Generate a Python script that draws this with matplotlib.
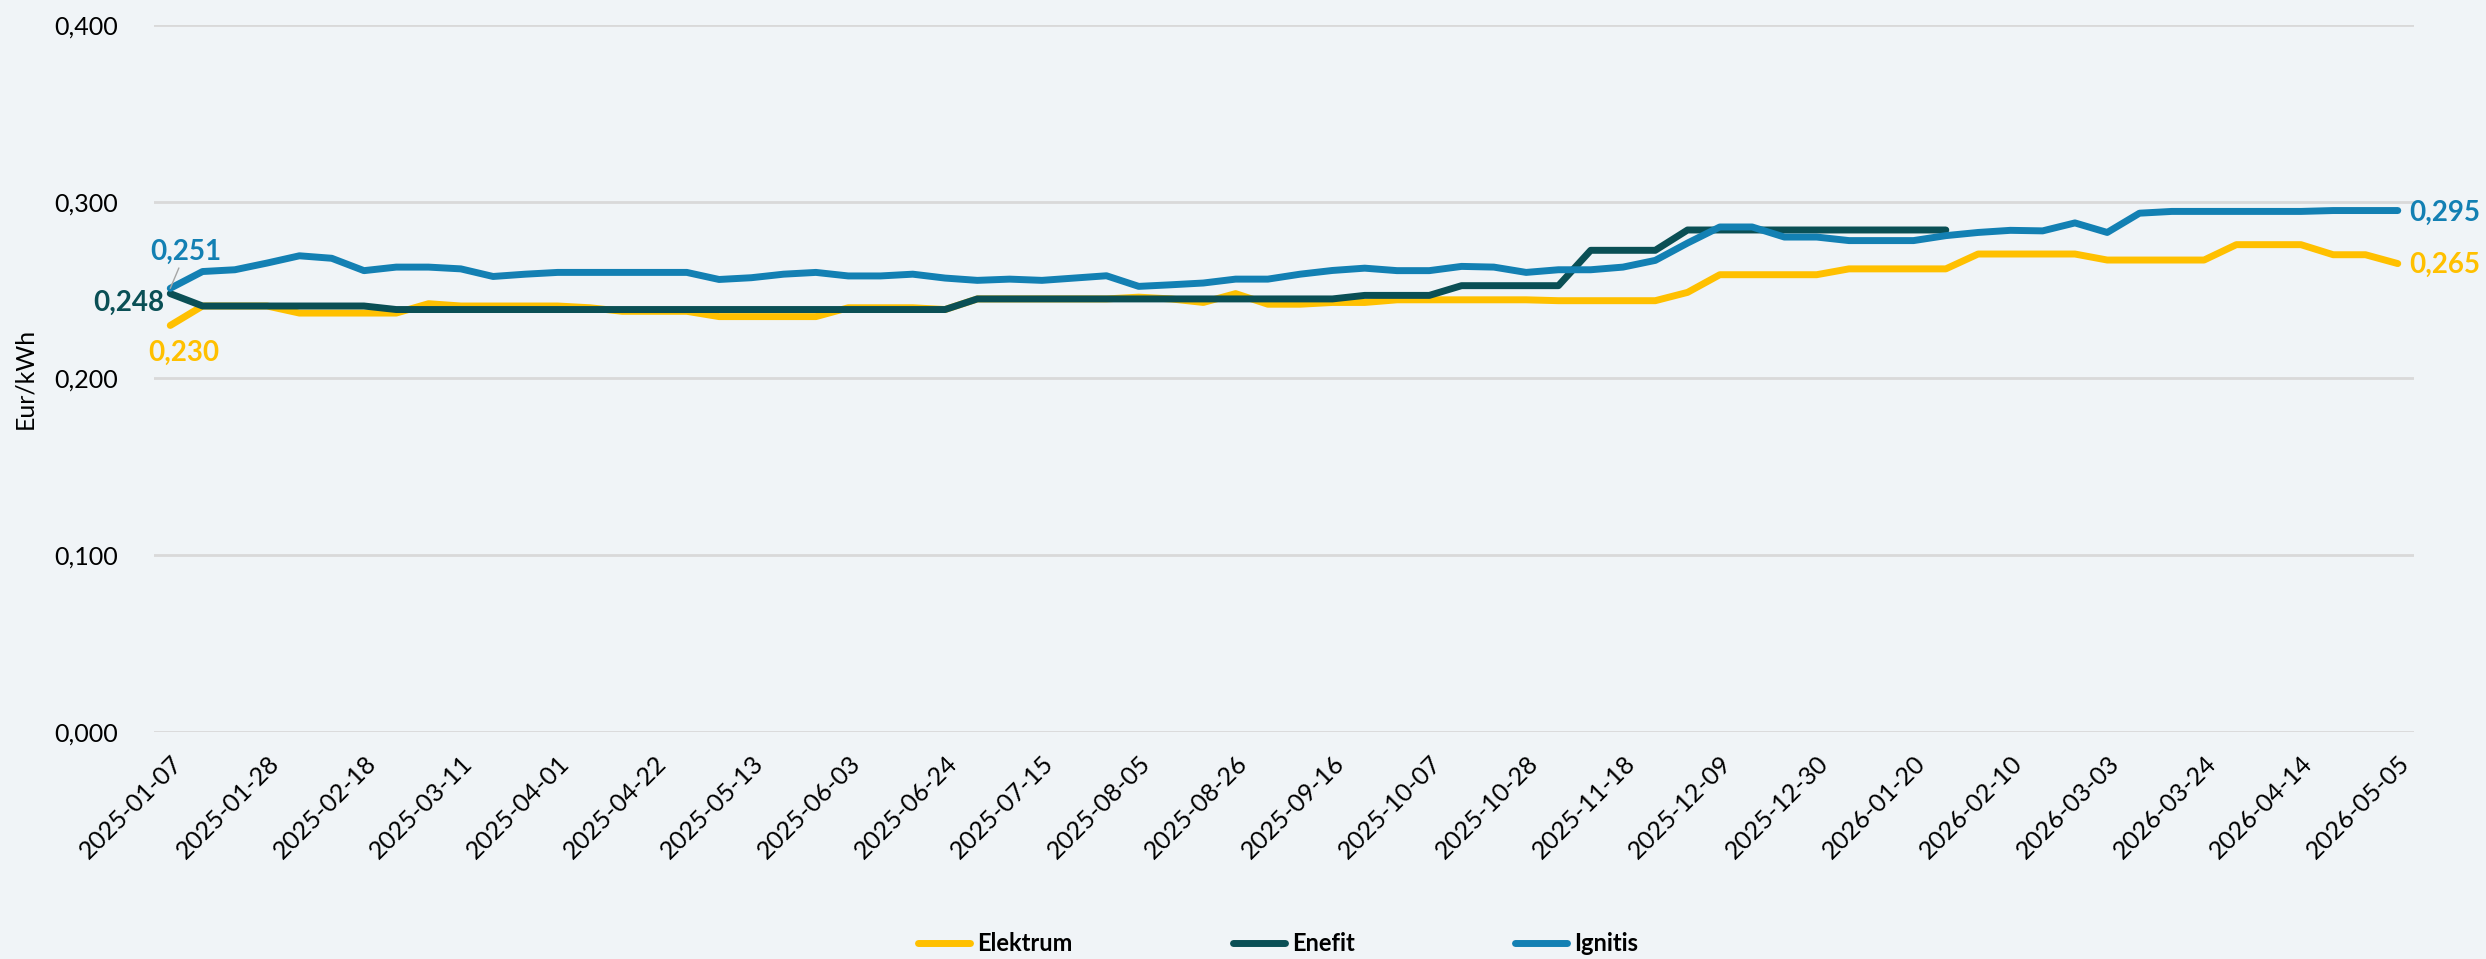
import matplotlib
matplotlib.use("Agg")
import matplotlib.pyplot as plt
from matplotlib.ticker import FuncFormatter
import numpy as np
import pandas as pd

# weekly price observations, Eur/kWh
DATES = pd.date_range("2025-01-07", periods=70, freq="7D")

ELEKTRUM = [
    0.230, 0.241, 0.241, 0.241, 0.237, 0.237, 0.237, 0.237, 0.2423, 0.241,
    0.241, 0.241, 0.241, 0.240, 0.238, 0.238, 0.238, 0.235, 0.235, 0.235,
    0.235, 0.240, 0.240, 0.240, 0.239, 0.245, 0.245, 0.245, 0.245, 0.245,
    0.246, 0.245, 0.243, 0.248, 0.242, 0.242, 0.243, 0.243, 0.2445, 0.2445,
    0.2445, 0.2445, 0.2445, 0.244, 0.244, 0.244, 0.244, 0.2487, 0.2587, 0.2587,
    0.2587, 0.2587, 0.262, 0.262, 0.262, 0.262, 0.2704, 0.2704, 0.2704, 0.2704,
    0.267, 0.267, 0.267, 0.267, 0.2757, 0.2757, 0.2757, 0.270, 0.270, 0.265,
]

ENEFIT = [
    0.248, 0.241, 0.241, 0.241, 0.241, 0.241, 0.241, 0.239, 0.239, 0.239,
    0.239, 0.239, 0.239, 0.239, 0.239, 0.239, 0.239, 0.239, 0.239, 0.239,
    0.239, 0.239, 0.239, 0.239, 0.239, 0.245, 0.245, 0.245, 0.245, 0.245,
    0.245, 0.245, 0.245, 0.245, 0.245, 0.245, 0.245, 0.247, 0.247, 0.247,
    0.2525, 0.2525, 0.2525, 0.2525, 0.2725, 0.2725, 0.2725, 0.284, 0.284, 0.284,
    0.284, 0.284, 0.284, 0.284, 0.284, 0.284,
] + [np.nan] * 14

IGNITIS = [
    0.251, 0.2605, 0.2615, 0.2653, 0.2694, 0.268, 0.261, 0.263, 0.263, 0.262,
    0.2577, 0.259, 0.260, 0.260, 0.260, 0.260, 0.260, 0.256, 0.257, 0.259,
    0.260, 0.258, 0.258, 0.259, 0.2568, 0.2555, 0.2562, 0.2555, 0.2568, 0.2581,
    0.2521, 0.253, 0.254, 0.2562, 0.2562, 0.259, 0.2611, 0.2624, 0.261, 0.261,
    0.2634, 0.263, 0.260, 0.2615, 0.2615, 0.263, 0.2668, 0.2766, 0.2857, 0.2857,
    0.280, 0.280, 0.278, 0.278, 0.278, 0.2808, 0.2826, 0.2838, 0.2835, 0.288,
    0.2826, 0.2935, 0.2945, 0.2945, 0.2945, 0.2945, 0.2945, 0.295, 0.295, 0.295,
]

SERIES = ["Elektrum", "Enefit", "Ignitis"]
COLORS = {"Elektrum": "#FFC000", "Enefit": "#0A4F55", "Ignitis": "#1380B3"}
Y_TICKS = [0.0, 0.1, 0.2, 0.3, 0.4]

BG = "#F0F4F7"
FONT = ["Lato", "DejaVu Sans"]


def comma(v, _pos=None):
    return f"{v:.3f}".replace(".", ",")


def main():
    plt.rcParams["font.family"] = FONT

    fig = plt.figure(figsize=(24.86, 9.59), dpi=100)
    fig.patch.set_facecolor(BG)
    ax = fig.add_axes([0.062, 0.2367, 0.909, 0.7373])
    ax.set_facecolor(BG)

    values = {"Elektrum": ELEKTRUM, "Enefit": ENEFIT, "Ignitis": IGNITIS}
    for name in SERIES:
        ax.plot(DATES, values[name], color=COLORS[name], lw=5,
                solid_capstyle="round", solid_joinstyle="round", label=name)

    half = pd.Timedelta(days=3.5)
    ax.set_xlim(DATES[0] - half, DATES[-1] + half)
    ax.set_ylim(0, 0.4)

    ax.set_yticks(Y_TICKS)
    ax.yaxis.set_major_formatter(FuncFormatter(comma))
    ax.grid(axis="y", color="#D9D9D9", lw=2)
    ax.set_axisbelow(True)

    tick_dates = DATES[::3]
    ax.set_xticks(tick_dates)
    ax.set_xticklabels([d.strftime("%Y-%m-%d") for d in tick_dates],
                       rotation=45, ha="right", rotation_mode="anchor")

    ax.tick_params(axis="both", length=0, labelsize=18, colors="#000000")
    ax.tick_params(axis="y", pad=26)
    ax.tick_params(axis="x", pad=14)
    for sp in ax.spines.values():
        sp.set_visible(False)

    ax.set_ylabel("Eur/kWh", fontsize=18)
    ax.yaxis.set_label_coords(-0.052, 0.5)

    # data labels at first and last points
    first, last = DATES[0], DATES[-1]
    ax.annotate(comma(IGNITIS[0]), (first, IGNITIS[0]), xytext=(11, 26),
                textcoords="offset points", ha="center", va="center",
                fontsize=20, fontweight="bold", color=COLORS["Ignitis"],
                arrowprops=dict(arrowstyle="-", color="#A6A6A6", lw=1,
                                shrinkA=0, shrinkB=0))
    ax.annotate(comma(ENEFIT[0]), (first, ENEFIT[0]), xytext=(-4, -7),
                textcoords="offset points", ha="right", va="center",
                fontsize=20, fontweight="bold", color=COLORS["Enefit"])
    ax.annotate(comma(ELEKTRUM[0]), (first, ELEKTRUM[0]), xytext=(10, -20),
                textcoords="offset points", ha="center", va="center",
                fontsize=20, fontweight="bold", color=COLORS["Elektrum"])
    ax.annotate(comma(IGNITIS[-1]), (last, IGNITIS[-1]), xytext=(8, -2),
                textcoords="offset points", ha="left", va="center",
                fontsize=20, fontweight="bold", color=COLORS["Ignitis"])
    ax.annotate(comma(ELEKTRUM[-1]), (last, ELEKTRUM[-1]), xytext=(8, -1),
                textcoords="offset points", ha="left", va="center",
                fontsize=20, fontweight="bold", color=COLORS["Elektrum"])

    leg = fig.legend(loc="lower center", bbox_to_anchor=(0.514, -0.018),
                     ncol=3, frameon=False, handlelength=2.2,
                     columnspacing=6.8, handletextpad=0.3,
                     prop={"size": 17, "weight": "bold"})
    for line in leg.get_lines():
        line.set_linewidth(5)

    fig.savefig("out.png", dpi=100, facecolor=BG)
    plt.close(fig)


if __name__ == "__main__":
    main()
